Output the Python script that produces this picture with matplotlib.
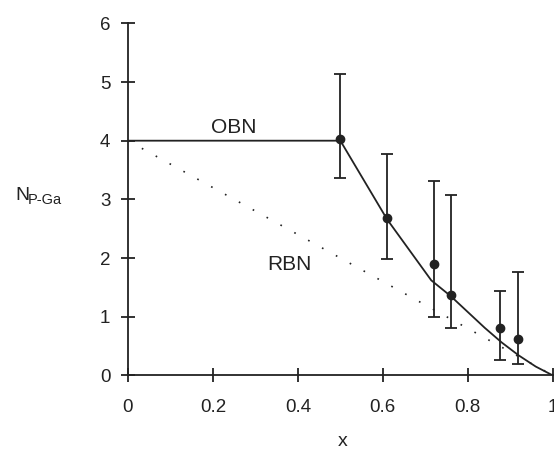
import matplotlib
matplotlib.use("Agg")
import matplotlib.pyplot as plt

plt.rcParams["font.family"] = ["Liberation Sans", "DejaVu Sans"]

# ---------------------------------------------------------------------
# Data
# ---------------------------------------------------------------------

# measured coordination numbers with error bars
x_meas = [0.50, 0.61, 0.72, 0.76, 0.877, 0.918]
n_meas = [4.03, 2.69, 1.90, 1.37, 0.81, 0.62]
n_high = [5.14, 3.77, 3.31, 3.07, 1.43, 1.76]
n_low = [3.36, 1.99, 1.00, 0.80, 0.26, 0.20]

# ordered bond network (OBN) model curve
x_obn = [0.0, 0.50, 0.61, 0.714, 0.76, 0.80, 0.84, 0.88, 0.92, 0.96, 1.0]
n_obn = [4.0, 4.0, 2.66, 1.62, 1.35, 1.08, 0.81, 0.56, 0.34, 0.15, 0.0]

# random bond network (RBN) model line
x_rbn = [0.0, 1.0]
n_rbn = [4.0, 0.0]

x_ticks = [0, 0.2, 0.4, 0.6, 0.8, 1]
x_ticklabels = ["0", "0.2", "0.4", "0.6", "0.8", "1"]
y_ticks = [0, 1, 2, 3, 4, 5, 6]

# ---------------------------------------------------------------------
# Plot
# ---------------------------------------------------------------------

ink = "#222222"
fig = plt.figure(figsize=(5.54, 4.49), dpi=100)
ax = fig.add_axes([0.231, 0.164, 0.7667, 0.784])

ax.plot(x_obn, n_obn, color=ink, lw=1.3)
ax.plot(x_rbn, n_rbn, color=ink, lw=1.2, linestyle=(0, (1, 8.5)))

yerr = [
    [m - lo for m, lo in zip(n_meas, n_low)],
    [hi - m for m, hi in zip(n_meas, n_high)],
]
ax.errorbar(
    x_meas,
    n_meas,
    yerr=yerr,
    fmt="o",
    color=ink,
    markersize=6,
    elinewidth=1.3,
    capsize=4.5,
    capthick=1.3,
)

ax.text(0.25, 4.22, "OBN", fontsize=15, ha="center", va="center", color=ink)
ax.text(0.38, 1.89, "RBN", fontsize=15, ha="center", va="center", color=ink)

ax.set_xlim(0, 1)
ax.set_ylim(0, 6)
ax.set_xticks(x_ticks)
ax.set_xticklabels(x_ticklabels)
ax.set_yticks(y_ticks)

for side in ["top", "right"]:
    ax.spines[side].set_visible(False)
for side in ["left", "bottom"]:
    ax.spines[side].set_linewidth(1.3)
    ax.spines[side].set_color(ink)

ax.tick_params(axis="both", direction="inout", length=9.5, width=1.3,
               colors=ink, labelsize=13.5)
ax.tick_params(axis="x", pad=12)
ax.tick_params(axis="y", pad=8)

# axis titles placed by hand
fig.text(343 / 554, 1 - 442 / 449, "x", fontsize=14, ha="center",
         va="center", color=ink)
fig.text(15 / 554, 1 - 195 / 449, "N", fontsize=14, ha="left",
         va="center", color=ink)
fig.text(28 / 554, 1 - 200 / 449, "P-Ga", fontsize=10.5, ha="left",
         va="center", color=ink)

fig.savefig("out.png", dpi=100)
